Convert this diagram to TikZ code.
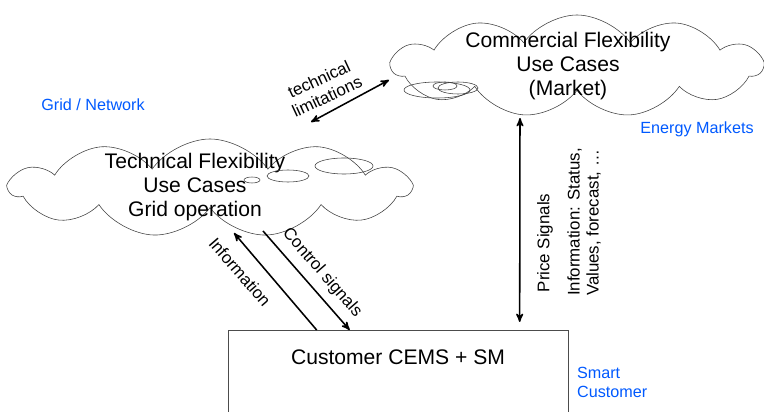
\documentclass[tikz,border=0pt]{standalone}
\usepackage{fontspec}
\setmainfont{Liberation Sans}
\usetikzlibrary{arrows, shapes, positioning, calc}

\begin{document}
\begin{tikzpicture}
    [x=0.025cm, y=-0.025cm, >=stealth', semithick,
    usecase/.style={cloud, cloud puffs=11, cloud puff arc=110, cloud ignores aspect, draw=black!75, thin, inner sep=0pt},
    casetext/.style={align=center, font=\fontsize{15}{17}\selectfont},
    puff/.style={ellipse, draw=black!75, thin, inner sep=0pt},
    flow/.style={line width=1.1pt},
    area/.style={text=blue!65!cyan, font=\fontsize{11.5}{13.5}\selectfont, align=left},
    tag/.style={font=\fontsize{12}{13.5}\selectfont}]

    \useasboundingbox (0,0) rectangle (764,412);

    \node[usecase, minimum width=10cm, minimum height=2.45cm] (tech) at (210,188) {};
    \node[usecase, minimum width=9.25cm, minimum height=2.55cm] (comm) at (577,66) {};
    \node[casetext] (techlabel) at (195,187) {Technical Flexibility\\Use Cases\\Grid operation};
    \node[casetext] (commlabel) at (568,66) {Commercial Flexibility\\Use Cases\\(Market)};

    \node[puff, minimum width=1.45cm, minimum height=0.4cm] (techpuffa) at (344,166) {};
    \node[puff, minimum width=1.05cm, minimum height=0.3cm] (techpuffb) at (288,176) {};
    \node[puff, minimum width=0.4cm, minimum height=0.15cm] (techpuffc) at (252,180) {};
    \node[puff, minimum width=1.65cm, minimum height=0.4cm] (commpuffa) at (437,90) {};
    \node[puff, minimum width=1.0cm, minimum height=0.3cm] (commpuffb) at (458,88) {};
    \node[puff, minimum width=0.6cm, minimum height=0.2cm] (commpuffc) at (445,86) {};

    \node[draw=black!70, thin, minimum width=8.5cm, minimum height=2.5cm, anchor=north] (cems) at (398,330) {};
    \node[font=\fontsize{15}{17}\selectfont] (cemslabel) at (398,357) {Customer CEMS + SM};

    \coordinate (infotop) at (234,233);
    \coordinate (ctrltop) at (263,231);
    \coordinate (pricetop) at (520,118);
    \coordinate (limcomm) at (389,80);
    \coordinate (limtech) at (311,122);

    \draw[flow, ->] ($(cems.north west)+(89,0)$) -- (infotop);
    \draw[flow, ->] (ctrltop) -- ($(cems.north west)+(122,0)$);
    \draw[flow, <->] (pricetop) -- ($(cems.north west)+(292,-8)$);
    \draw[flow, <->] (limcomm) -- (limtech);

    \node[tag, rotate=-49] (infolabel) at (240,272) {Information};
    \node[tag, rotate=-49] (ctrllabel) at (322,273) {Control signals};
    \node[tag, rotate=90] (pricelabel) at (545,243) {Price Signals};
    \node[tag, rotate=90, align=left] (statuslabel) at (584,222) {Information: Status,\\Values, forecast, \ldots};
    \node[tag, rotate=25, align=center] (limlabel) at (323,88) {technical\\limitations};

    \node[area] (grid) at (93,105) {Grid / Network};
    \node[area] (markets) at (697,129) {Energy Markets};
    \node[area, anchor=west] (customer) at (572,382) {Smart\\Customer};
\end{tikzpicture}
\end{document}
